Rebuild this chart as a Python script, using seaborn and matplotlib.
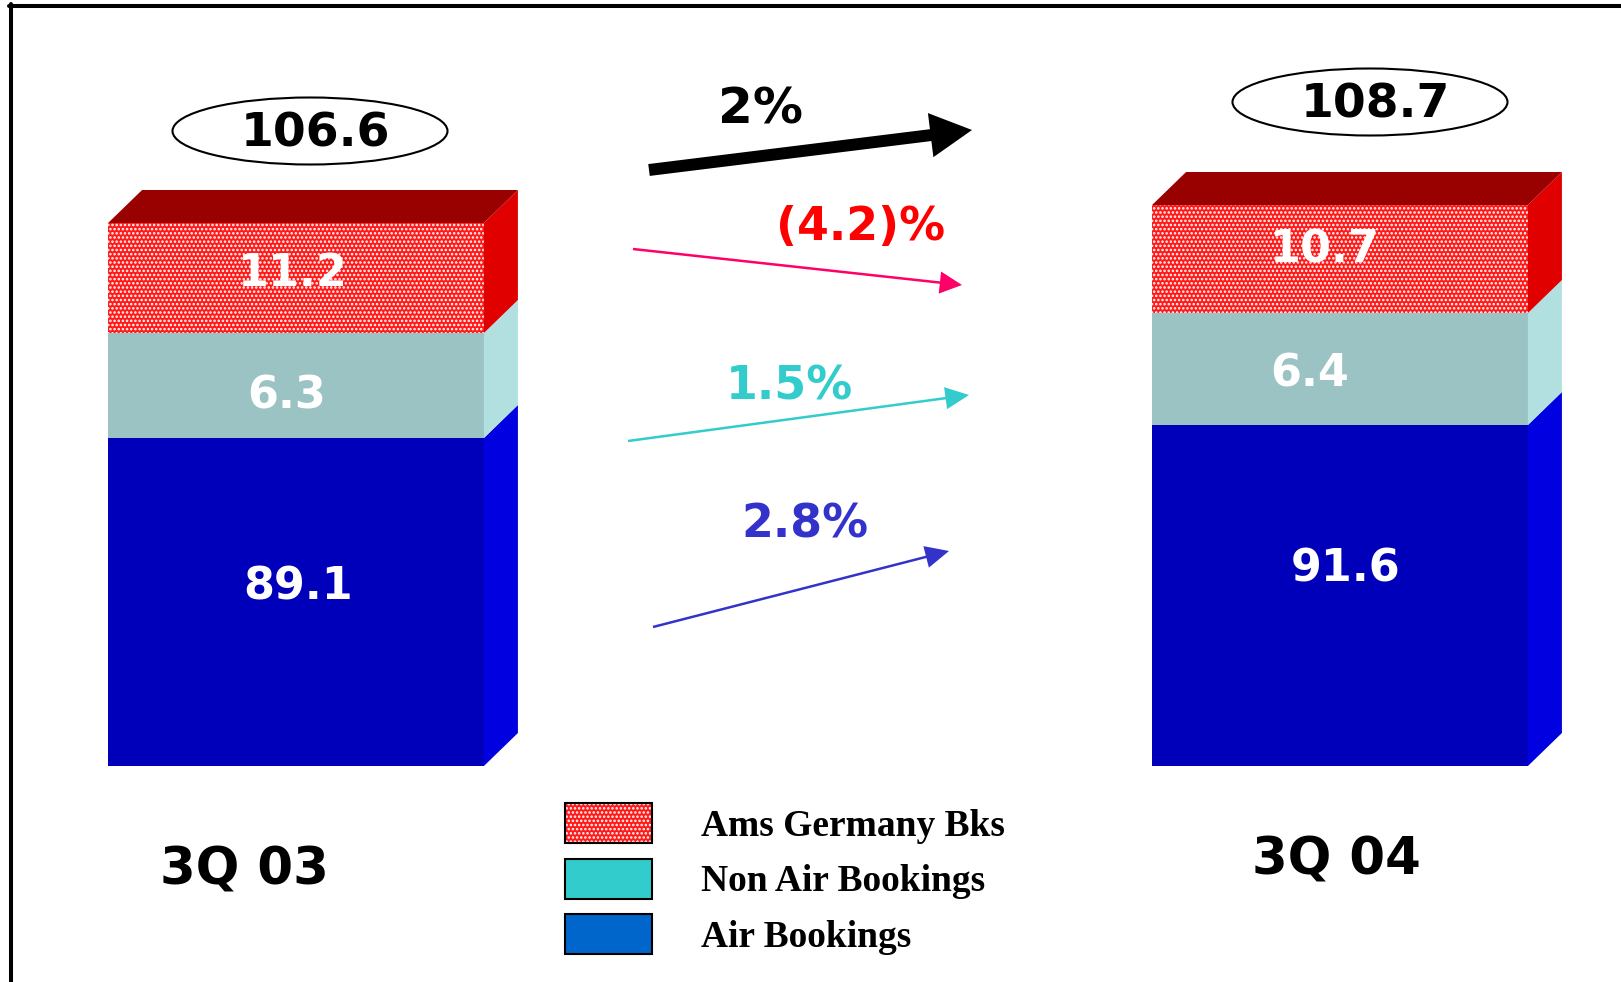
import numpy as np
import matplotlib
matplotlib.use('Agg')
import matplotlib.pyplot as plt
import seaborn as sns
from matplotlib.patches import Ellipse, Patch, Polygon
from matplotlib.lines import Line2D
from matplotlib.legend_handler import HandlerTuple

# data
periods = ['3Q 03', '3Q 04']
air_bookings = [89.1, 91.6]
non_air_bookings = [6.3, 6.4]
ams_germany = [11.2, 10.7]
growth_labels = ['2%', '(4.2)%', '1.5%', '2.8%']
legend_labels = ['Ams Germany Bks', 'Non Air Bookings', 'Air Bookings']

# the slide is not drawn to scale: height (px above the base) where each
# stack boundary sits on the original, sorted low to high -> used for the y scale
boundary_px = [328, 341, 433, 453, 543, 561]

sns.set_style('white')
plt.rcParams['font.family'] = ['DejaVu Sans']
plt.rcParams['text.color'] = 'black'
plt.rcParams['hatch.linewidth'] = 1.2

W, H = 1621, 982
BASE = 766  # base line, px from top


def px(x, y):
    # pixel position -> axes fraction
    return (x / W, 1 - y / H)


air = np.array(air_bookings)
air_non = air + np.array(non_air_bookings)
totals = air_non + np.array(ams_germany)

# piecewise scale through the stack boundaries
bounds = np.sort(np.concatenate([air, air_non, totals]))
s_lo = boundary_px[0] / bounds[0]
s_hi = (boundary_px[-1] - boundary_px[-2]) / (bounds[-1] - bounds[-2])
k_in = np.concatenate([[-400, 0], bounds, [400]])
k_out = np.concatenate([[-400 * s_lo, 0], boundary_px,
                        [boundary_px[-1] + (400 - bounds[-1]) * s_hi]])


def fwd(v):
    return np.interp(v, k_in, k_out)


def inv(v):
    return np.interp(v, k_out, k_in)


fig = plt.figure(figsize=(W / 100, H / 100), dpi=100)
ax = fig.add_axes([0, 0, 1, 1])

bw = 0.36
red, teal, blue = '#FF1A1A', '#9CC3C3', '#0000BB'
sns.barplot(x=periods, y=totals, color=red, saturation=1, width=bw,
            hatch='....', edgecolor='white', linewidth=0, errorbar=None, ax=ax)
sns.barplot(x=periods, y=air_non, color=teal, saturation=1, width=bw,
            linewidth=0, errorbar=None, ax=ax)
sns.barplot(x=periods, y=air, color=blue, saturation=1, width=bw,
            linewidth=0, errorbar=None, ax=ax)

ax.set_yscale('function', functions=(fwd, inv))
ppu = 1044
ax.set_xlim(-296 / ppu, -296 / ppu + W / ppu)
ax.set_ylim(inv(-(H - BASE)), inv(BASE))
ax.set_axis_off()

# 3d look: side faces and top face
dx, dy = 34, 33
to_disp = ax.transData.transform
to_data = ax.transData.inverted().transform
side_cols = ['#0000E0', '#B2E0E0', '#E00000']
for i in range(len(periods)):
    x0, x1 = i - bw / 2, i + bw / 2
    segs = [(0, air[i]), (air[i], air_non[i]), (air_non[i], totals[i])]
    for (lo, hi), c in zip(segs, side_cols):
        xr, yb = to_disp((x1, lo))
        _, yt = to_disp((x1, hi))
        pts = [(xr, yb), (xr + dx, yb + dy), (xr + dx, yt + dy), (xr, yt)]
        ax.add_patch(Polygon(to_data(pts), closed=True, fc=c, lw=0))
    xl, ytop = to_disp((x0, totals[i]))
    xr, _ = to_disp((x1, totals[i]))
    pts = [(xl, ytop), (xr, ytop), (xr + dx, ytop + dy), (xl + dx, ytop + dy)]
    ax.add_patch(Polygon(to_data(pts), closed=True, fc='#990000', lw=0))

# segment values (placed where the slide has them)
seg_vals = [air_bookings, non_air_bookings, ams_germany]
seg_pos = [[(298, 587), (1346, 569)],
           [(287, 396), (1310, 374)],
           [(293, 274), (1325, 250)]]
for vals, poss in zip(seg_vals, seg_pos):
    for v, (lx, ly) in zip(vals, poss):
        ax.text(*px(lx, ly), f'{v:.1f}', transform=ax.transAxes, color='white',
                fontsize=32, fontweight='bold', ha='center', va='center')

# totals in ellipses
ell_pos = [(310, 131), (1370, 102)]
for (ex, ey), t in zip(ell_pos, totals):
    ax.add_patch(Ellipse(px(ex, ey), 275 / W, 67 / H, transform=ax.transAxes,
                         fc='white', ec='black', lw=1.5))
    ax.text(*px(ex + 5, ey + 3), f'{t:.1f}', transform=ax.transAxes,
            fontsize=34, fontweight='bold', ha='center', va='center')

# period labels
for (lx, ly), p in zip([(244, 871), (1336, 860)], periods):
    ax.text(*px(lx, ly), p, transform=ax.transAxes, fontsize=37,
            fontweight='bold', ha='center', va='center')

# growth arrows
arrows = [((649, 170), (972, 130), 'black', 8.6, 32, 30),
          ((633, 249), (962, 285), '#FF0066', 1.8, 16, 16),
          ((628, 441), (969, 395), '#33CCCC', 1.8, 16, 17),
          ((653, 627), (949, 551), '#3333CC', 1.8, 16, 17)]
for tail, tip, c, tw, hw, hl in arrows:
    ax.annotate('', xy=px(*tip), xytext=px(*tail), xycoords='axes fraction',
                arrowprops=dict(arrowstyle=f'simple,tail_width={tw},head_width={hw},head_length={hl}',
                                mutation_scale=1, fc=c, ec='none', lw=0,
                                shrinkA=0, shrinkB=0))

label_pos = [(761, 110), (861, 228), (789, 387), (805, 525)]
label_cols = ['black', '#FF0000', '#33CCCC', '#3333CC']
label_size = [36, 33, 33, 33]
for (lx, ly), s, c, fs in zip(label_pos, growth_labels, label_cols, label_size):
    ax.text(*px(lx, ly), s, transform=ax.transAxes, color=c, fontsize=fs,
            fontweight='bold', ha='center', va='center')

# legend
red_handle = (Patch(facecolor=red, edgecolor='white', linewidth=0, hatch='....'),
              Patch(facecolor='none', edgecolor='black', linewidth=1.5))
teal_handle = Patch(facecolor='#33CCCC', edgecolor='black', linewidth=1.5)
blue_handle = Patch(facecolor='#0066CC', edgecolor='black', linewidth=1.5)
ax.legend([red_handle, teal_handle, blue_handle], legend_labels,
          handler_map={tuple: HandlerTuple()}, loc='upper left',
          bbox_to_anchor=px(565, 803), frameon=False, borderpad=0,
          borderaxespad=0, handlelength=2.32, handleheight=1.27,
          handletextpad=1.3, labelspacing=0.4,
          prop={'family': 'Liberation Serif', 'weight': 'bold', 'size': 27})

# slide frame (top and left)
fig.add_artist(Line2D([9 / W, 1], [1 - 6 / H] * 2, color='black', lw=2.9,
                      transform=fig.transFigure))
fig.add_artist(Line2D([11 / W] * 2, [0, 1 - 4 / H], color='black', lw=2.9,
                      transform=fig.transFigure))

fig.savefig('out.png', dpi=100)
